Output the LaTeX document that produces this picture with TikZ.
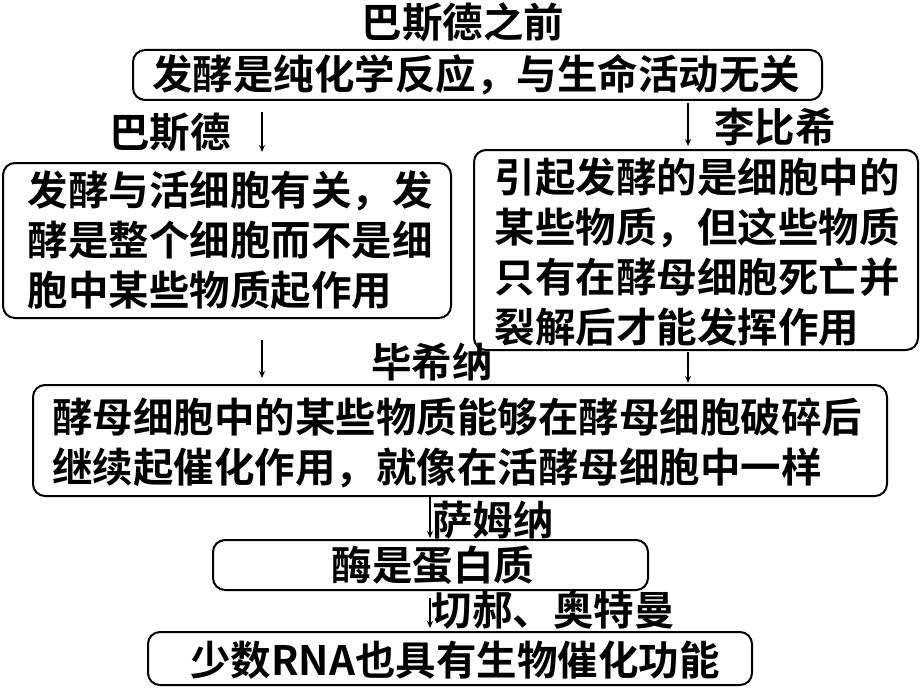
\documentclass[tikz,border=0pt]{standalone}
\usepackage{fontspec}
\setmainfont{Noto Sans CJK SC}[BoldFont={Noto Sans CJK SC Bold}]
\usetikzlibrary{arrows.meta}
\begin{document}
\begin{tikzpicture}[x=1pt,y=-1pt,
 box/.style={draw,line width=2pt,rounded corners=12pt,inner sep=0pt,align=left},
 txt/.style={font=\fontsize{40.5}{50}\selectfont\bfseries,inner sep=0pt},
 arr/.style={line width=1.5pt,-{Stealth[length=7pt,width=6pt]}}]
\useasboundingbox (0,0) rectangle (920,690);
\node[box,minimum width=689pt,minimum height=50pt] (b1) at (477.5,75) {};
\node[txt] (t1) at (476,75) {发酵是纯化学反应，与生命活动无关};
\node[box,minimum width=448pt,minimum height=155pt] (b2) at (227,240.5) {};
\node[txt,align=left] (t2) at (230,240) {发酵与活细胞有关，发\\酵是整个细胞而不是细\\胞中某些物质起作用};
\node[box,minimum width=444pt,minimum height=200pt] (b3) at (696,250) {};
\node[txt,align=left] (t3) at (697,252) {引起发酵的是细胞中的\\某些物质，但这些物质\\只有在酵母细胞死亡并\\裂解后才能发挥作用};
\node[box,minimum width=854pt,minimum height=111pt] (b4) at (460,440.5) {};
\node[txt,align=left] (t4) at (457,443) {酵母细胞中的某些物质能够在酵母细胞破碎后\\继续起催化作用，就像在活酵母细胞中一样};
\node[box,minimum width=435pt,minimum height=50pt] (b5) at (430.5,565) {};
\node[txt] (t5) at (433,565) {酶是蛋白质};
\node[box,minimum width=604pt,minimum height=53pt] (b6) at (450,658.5) {};
\node[txt] (t6) at (455,660) {少数RNA也具有生物催化功能};
\node[txt] (l0) at (463,22) {巴斯德之前};
\node[txt] (l1) at (170,132) {巴斯德};
\node[txt] (l2) at (775,127) {李比希};
\node[txt] (l3) at (432,362) {毕希纳};
\node[txt] (l4) at (493,520) {萨姆纳};
\node[txt] (l5) at (553,610) {切郝、奥特曼};
\coordinate (a1s) at (262,112); \coordinate (a1e) at (262,152);
\coordinate (a2s) at (688,103); \coordinate (a2e) at (688,146);
\coordinate (a3s) at (262,340); \coordinate (a3e) at (262,378);
\coordinate (a4s) at (688,352); \coordinate (a4e) at (688,383);
\coordinate (a5s) at (430,497); \coordinate (a5e) at (430,538);
\coordinate (a6s) at (430,598); \coordinate (a6e) at (430,628);
\draw[arr] (a1s)--(a1e); \draw[arr] (a2s)--(a2e); \draw[arr] (a3s)--(a3e);
\draw[arr] (a4s)--(a4e); \draw[arr] (a5s)--(a5e); \draw[arr] (a6s)--(a6e);
\end{tikzpicture}
\end{document}
